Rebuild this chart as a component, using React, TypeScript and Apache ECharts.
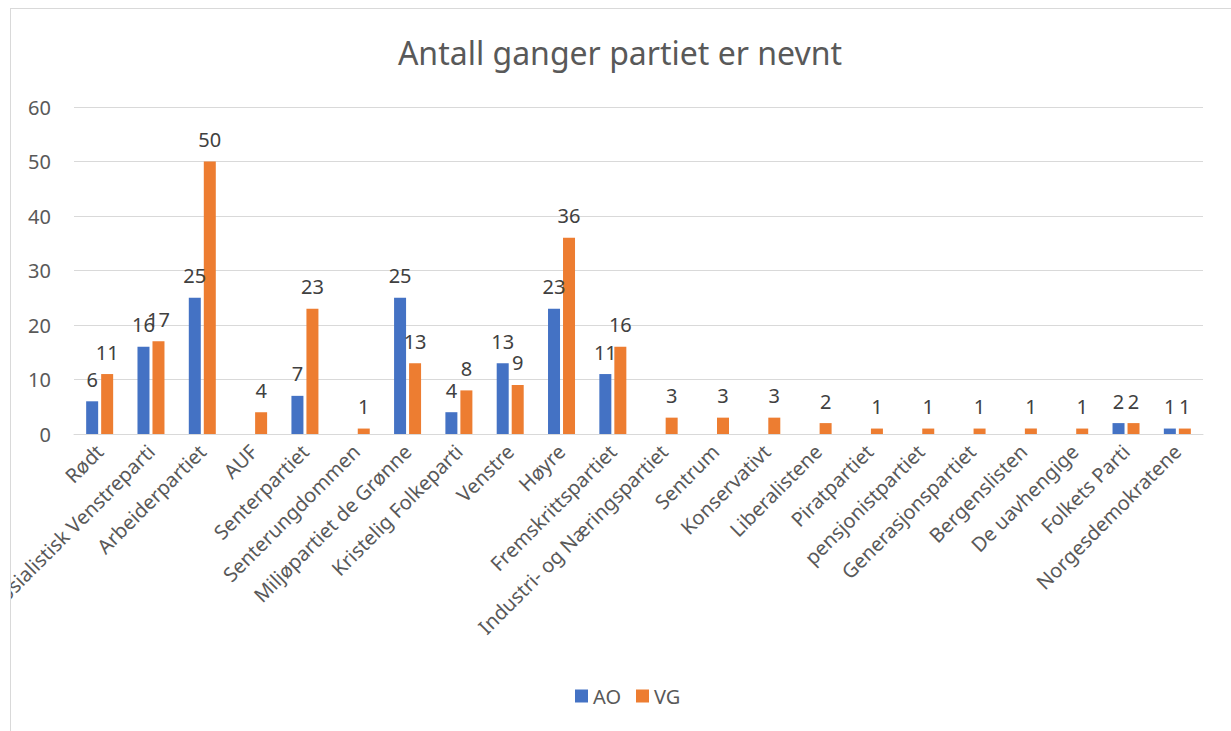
import React, { useEffect, useRef } from "react";
import * as echarts from "echarts";

const categories = [
  "Rødt",
  "Sosialistisk Venstreparti",
  "Arbeiderpartiet",
  "AUF",
  "Senterpartiet",
  "Senterungdommen",
  "Miljøpartiet de Grønne",
  "Kristelig Folkeparti",
  "Venstre",
  "Høyre",
  "Fremskrittspartiet",
  "Industri- og Næringspartiet",
  "Sentrum",
  "Konservativt",
  "Liberalistene",
  "Piratpartiet",
  "pensjonistpartiet",
  "Generasjonspartiet",
  "Bergenslisten",
  "De uavhengige",
  "Folkets Parti",
  "Norgesdemokratene",
];

const aoValues: (number | null)[] = [
  6, 16, 25, null, 7, null, 25, 4, 13, 23, 11, null, null, null, null, null, null, null, null, null, 2, 1,
];
const vgValues: (number | null)[] = [
  11, 17, 50, 4, 23, 1, 13, 8, 9, 36, 16, 3, 3, 3, 2, 1, 1, 1, 1, 1, 2, 1,
];

const seriesNames = ["AO", "VG"];
const yTicks = { min: 0, max: 60, interval: 10 };
const titleText = "Antall ganger partiet er nevnt";

const FONT = "'Noto Sans', 'Open Sans', sans-serif";

export default function App() {
  const ref = useRef<HTMLDivElement>(null);
  useEffect(() => {
    if (!ref.current) return;
    const chart = echarts.init(ref.current, undefined, { renderer: "svg" });
    const labelCfg = {
      show: true,
      position: "top" as const,
      distance: 12,
      color: "#404040",
      fontSize: 20,
      fontFamily: FONT,
    };
    chart.setOption({
      animation: false,
      textStyle: { fontFamily: FONT },
      graphic: [
        {
          type: "text",
          x: 609,
          y: 43,
          style: {
            text: titleText,
            fontSize: 32,
            fill: "#595959",
            fontFamily: FONT,
            textAlign: "center",
            textVerticalAlign: "middle",
          },
        },
      ],
      legend: {
        left: 559,
        top: 672,
        itemWidth: 13,
        itemHeight: 13,
        itemGap: 15,
        icon: "rect",
        textStyle: { fontSize: 20, color: "#595959", fontFamily: FONT },
        data: seriesNames,
      },
      grid: {
        left: 63,
        right: 38,
        top: 98,
        bottom: 305,
        containLabel: false,
        outerBoundsMode: "none",
      },
      xAxis: {
        type: "category",
        data: categories,
        axisLine: { show: true, lineStyle: { color: "#d9d9d9", width: 1 } },
        axisTick: { show: false },
        axisLabel: {
          interval: 0,
          rotate: 45,
          fontSize: 20,
          color: "#595959",
          fontFamily: FONT,
          margin: 14,
        },
      },
      yAxis: {
        type: "value",
        min: yTicks.min,
        max: yTicks.max,
        interval: yTicks.interval,
        axisLine: { show: false },
        axisTick: { show: false },
        splitLine: { lineStyle: { color: "#d9d9d9", width: 1 } },
        axisLabel: { fontSize: 20, color: "#595959", fontFamily: FONT, margin: 23 },
      },
      series: [
        {
          name: seriesNames[0],
          type: "bar",
          data: aoValues,
          barWidth: 12,
          barGap: "25%",
          itemStyle: { color: "#4472C4" },
          label: labelCfg,
        },
        {
          name: seriesNames[1],
          type: "bar",
          data: vgValues,
          barWidth: 12,
          itemStyle: { color: "#ED7D31" },
          label: labelCfg,
        },
      ],
    });
    return () => chart.dispose();
  }, []);
  return (
    <div
      style={{
        position: "absolute",
        left: 10,
        top: 8,
        width: 1230,
        height: 730,
        border: "1px solid #d9d9d9",
        background: "#fff",
      }}
    >
      <div ref={ref} style={{ width: 1230, height: 730 }} />
    </div>
  );
}
